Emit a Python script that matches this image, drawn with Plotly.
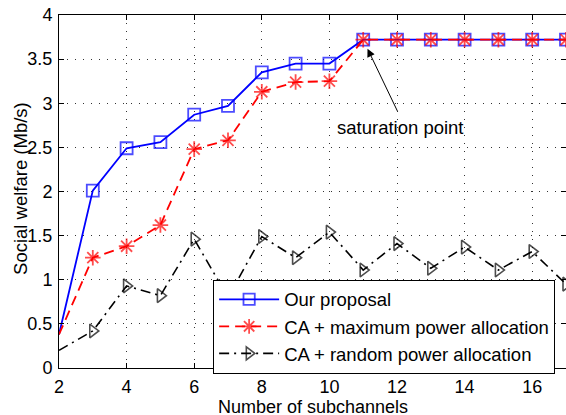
import plotly.graph_objects as go

subchannels = list(range(2, 18))
our_proposal = [0.38, 2.01, 2.49, 2.56, 2.87, 2.97, 3.35, 3.45, 3.45,
                3.72, 3.72, 3.72, 3.72, 3.72, 3.72, 3.72]
ca_max_power = [0.38, 1.25, 1.38, 1.62, 2.48, 2.58, 3.13, 3.24, 3.25,
                3.72, 3.72, 3.72, 3.72, 3.72, 3.72, 3.72]
ca_random_power = [0.2, 0.42, 0.93, 0.82, 1.46, 0.8, 1.49, 1.25, 1.54,
                   1.11, 1.41, 1.13, 1.37, 1.11, 1.32, 0.95]

x_ticks = [2, 4, 6, 8, 10, 12, 14, 16]
y_ticks = [0, 0.5, 1, 1.5, 2, 2.5, 3, 3.5, 4]
y_tick_text = ["0", "0.5", "1", "1.5", "2", "2.5", "3", "3.5", "4"]

FONT = "Liberation Sans, Arial, sans-serif"


def sizes(n, s):
    # no marker drawn on the first point (as in the original figure)
    return [0] + [s] * (n - 1)


n = len(subchannels)
fig = go.Figure()
fig.add_trace(go.Scatter(
    x=subchannels, y=our_proposal, name="Our proposal", mode="lines+markers",
    line=dict(color="#0000ff", width=1.8),
    marker=dict(symbol="square-open", size=sizes(n, 12), color="#0000ff",
                line=dict(width=1.8, color="#0000ff")),
))
fig.add_trace(go.Scatter(
    x=subchannels, y=ca_max_power, name="CA + maximum power allocation", mode="lines+markers",
    line=dict(color="#ff0000", width=1.8, dash="10px,6px"),
    marker=dict(symbol="asterisk-open", size=sizes(n, 13), color="#ff0000",
                line=dict(width=1.8, color="#ff0000")),
))
fig.add_trace(go.Scatter(
    x=subchannels, y=ca_random_power, name="CA + random power allocation", mode="lines+markers",
    line=dict(color="#000000", width=1.6, dash="10px,5px,2px,5px"),
    marker=dict(symbol="triangle-right-open", size=sizes(n, 12), color="#000000",
                line=dict(width=1.6, color="#000000")),
))

fig.add_annotation(x=11, y=3.72, xref="x", yref="y", text="", showarrow=True,
                   ax=35, ay=73, arrowhead=2, arrowsize=1.6, arrowwidth=1,
                   arrowcolor="black", standoff=10)
fig.add_annotation(x=12.09, y=2.73, xref="x", yref="y", text="saturation point",
                   showarrow=False, font=dict(family=FONT, size=18.5, color="black"))

# axis titles placed as annotations (positions as in the original figure)
fig.add_annotation(x=-0.075, y=0.51, xref="paper", yref="paper",
                   text="Social welfare (Mb/s)", textangle=-90, showarrow=False,
                   xanchor="center", yanchor="middle",
                   font=dict(family=FONT, size=18.5, color="black"))
fig.add_annotation(x=0.5, y=-0.08, xref="paper", yref="paper",
                   text="Number of subchannels", showarrow=False,
                   xanchor="center", yanchor="top", borderpad=0,
                   font=dict(family=FONT, size=18, color="black"))

axis_common = dict(
    showline=True, linecolor="black", linewidth=1, mirror="ticks",
    ticks="inside", ticklen=5, tickcolor="black",
    showgrid=True, gridcolor="#333333", gridwidth=1, griddash="1px,7px",
    zeroline=False, automargin=False,
    tickfont=dict(family=FONT, size=18, color="black"),
)
fig.update_xaxes(range=[2, 17], tickvals=x_ticks, ticklabelstandoff=2, **axis_common)
fig.update_yaxes(range=[0, 4], tickvals=y_ticks, ticktext=y_tick_text, ticklabelstandoff=2,
                 **axis_common)

fig.update_layout(
    width=566, height=415,
    margin=dict(l=59, r=0, t=15, b=47),
    paper_bgcolor="white", plot_bgcolor="white",
    showlegend=True,
    legend=dict(x=0.304, y=0.25, xanchor="left", yanchor="top",
                bgcolor="white", bordercolor="black", borderwidth=1,
                font=dict(family=FONT, size=18.5, color="black"),
                tracegroupgap=0, itemwidth=60),
)

fig.write_html("out.html")
